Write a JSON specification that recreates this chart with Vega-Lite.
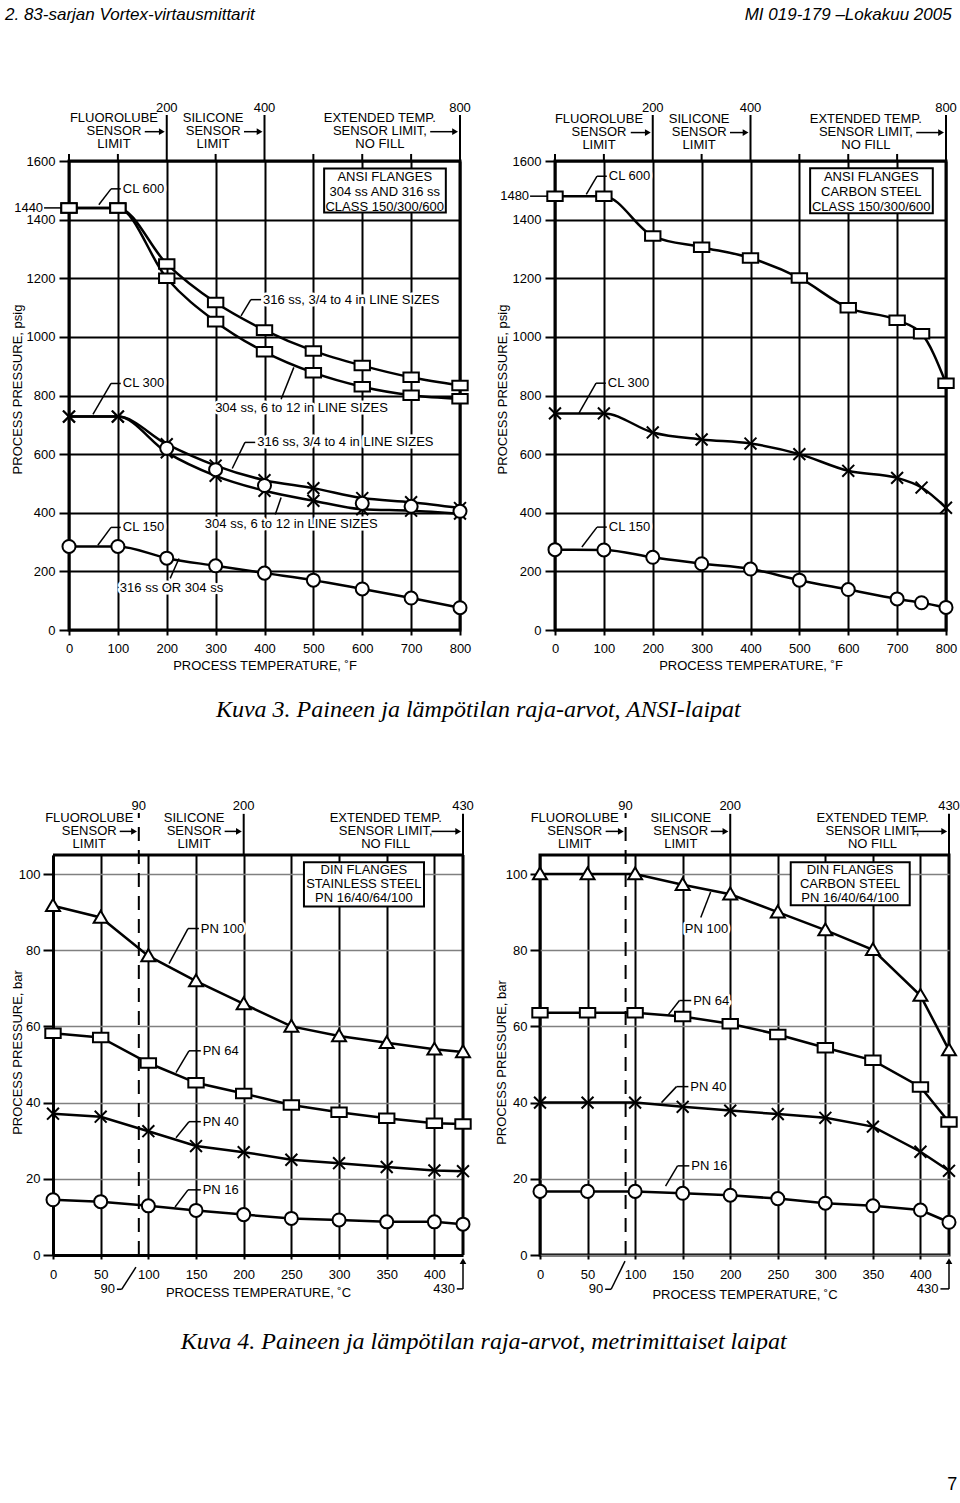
{
"$schema": "https://vega.github.io/schema/vega-lite/v6.json",
"background": "white",
"padding": {"left": 3, "top": 4, "right": 2, "bottom": 2},
"config": {
  "font": "Liberation Sans",
  "view": {"stroke": "black", "strokeWidth": 3},
  "axis": {"labelFont": "Liberation Sans", "labelFontSize": 13, "labelColor": "black", "titleFont": "Liberation Sans", "titleFontSize": 13, "titleFontWeight": "normal", "titleColor": "black", "domain": false, "grid": true, "gridColor": "black", "gridWidth": 2, "gridOpacity": 1, "tickColor": "black", "tickWidth": 2, "labelOverlap": false, "labelFlush": false},
  "text": {"font": "Liberation Sans", "fontSize": 13}
},
"datasets": {
  "s1": [
    {"g":"CL600 316","m":"sq","t":0,"p":1440},{"g":"CL600 316","m":"sq","t":100,"p":1440},{"g":"CL600 316","m":"sq","t":200,"p":1249},{"g":"CL600 316","m":"sq","t":300,"p":1117},{"g":"CL600 316","m":"sq","t":400,"p":1023},{"g":"CL600 316","m":"sq","t":500,"p":952},{"g":"CL600 316","m":"sq","t":600,"p":902},{"g":"CL600 316","m":"sq","t":700,"p":862},{"g":"CL600 316","m":"sq","t":800,"p":834},
    {"g":"CL600 304","m":"sq","t":0,"p":1440},{"g":"CL600 304","m":"sq","t":100,"p":1440},{"g":"CL600 304","m":"sq","t":200,"p":1200},{"g":"CL600 304","m":"sq","t":300,"p":1052},{"g":"CL600 304","m":"sq","t":400,"p":949},{"g":"CL600 304","m":"sq","t":500,"p":878},{"g":"CL600 304","m":"sq","t":600,"p":830},{"g":"CL600 304","m":"sq","t":700,"p":801},{"g":"CL600 304","m":"sq","t":800,"p":789},
    {"g":"CL300 316","m":"x","t":0,"p":728},{"g":"CL300 316","m":"x","t":100,"p":728},{"g":"CL300 316","m":"x","t":200,"p":634},{"g":"CL300 316","m":"x","t":300,"p":561},{"g":"CL300 316","m":"x","t":400,"p":511},{"g":"CL300 316","m":"x","t":500,"p":484},{"g":"CL300 316","m":"x","t":600,"p":450},{"g":"CL300 316","m":"x","t":700,"p":436},{"g":"CL300 316","m":"x","t":800,"p":416},
    {"g":"CL300 304","m":"x","t":0,"p":728},{"g":"CL300 304","m":"x","t":100,"p":728},{"g":"CL300 304","m":"x","t":200,"p":606},{"g":"CL300 304","m":"x","t":300,"p":526},{"g":"CL300 304","m":"x","t":400,"p":475},{"g":"CL300 304","m":"x","t":500,"p":441},{"g":"CL300 304","m":"x","t":600,"p":412},{"g":"CL300 304","m":"x","t":700,"p":407},{"g":"CL300 304","m":"x","t":800,"p":397},
    {"g":"CL300 mid","m":"o","t":200,"p":620},{"g":"CL300 mid","m":"o","t":300,"p":547},{"g":"CL300 mid","m":"o","t":400,"p":493},{"g":"CL300 mid","m":"o","t":600,"p":432},{"g":"CL300 mid","m":"o","t":700,"p":422},{"g":"CL300 mid","m":"o","t":800,"p":405},
    {"g":"CL150","m":"o","t":0,"p":285},{"g":"CL150","m":"o","t":100,"p":285},{"g":"CL150","m":"o","t":200,"p":245},{"g":"CL150","m":"o","t":300,"p":219},{"g":"CL150","m":"o","t":400,"p":194},{"g":"CL150","m":"o","t":500,"p":170},{"g":"CL150","m":"o","t":600,"p":140},{"g":"CL150","m":"o","t":700,"p":109},{"g":"CL150","m":"o","t":800,"p":76}
  ],
  "s2": [
    {"g":"CL600","m":"sq","t":0,"p":1480},{"g":"CL600","m":"sq","t":100,"p":1480},{"g":"CL600","m":"sq","t":200,"p":1344},{"g":"CL600","m":"sq","t":300,"p":1306},{"g":"CL600","m":"sq","t":400,"p":1269},{"g":"CL600","m":"sq","t":500,"p":1201},{"g":"CL600","m":"sq","t":600,"p":1099},{"g":"CL600","m":"sq","t":700,"p":1057},{"g":"CL600","m":"sq","t":750,"p":1011},{"g":"CL600","m":"sq","t":800,"p":842},
    {"g":"CL300","m":"x","t":0,"p":739},{"g":"CL300","m":"x","t":100,"p":739},{"g":"CL300","m":"x","t":200,"p":674},{"g":"CL300","m":"x","t":300,"p":650},{"g":"CL300","m":"x","t":400,"p":636},{"g":"CL300","m":"x","t":500,"p":600},{"g":"CL300","m":"x","t":600,"p":543},{"g":"CL300","m":"x","t":700,"p":519},{"g":"CL300","m":"x","t":750,"p":486},{"g":"CL300","m":"x","t":800,"p":417},
    {"g":"CL150","m":"o","t":0,"p":274},{"g":"CL150","m":"o","t":100,"p":273},{"g":"CL150","m":"o","t":200,"p":248},{"g":"CL150","m":"o","t":300,"p":226},{"g":"CL150","m":"o","t":400,"p":208},{"g":"CL150","m":"o","t":500,"p":170},{"g":"CL150","m":"o","t":600,"p":138},{"g":"CL150","m":"o","t":700,"p":106},{"g":"CL150","m":"o","t":750,"p":93},{"g":"CL150","m":"o","t":800,"p":77}
  ],
  "s3": [
    {"g":"PN100","m":"tri","t":0,"p":91.7},{"g":"PN100","m":"tri","t":50,"p":88.6},{"g":"PN100","m":"tri","t":100,"p":78.5},{"g":"PN100","m":"tri","t":150,"p":71.9},{"g":"PN100","m":"tri","t":200,"p":65.9},{"g":"PN100","m":"tri","t":250,"p":60.0},{"g":"PN100","m":"tri","t":300,"p":57.5},{"g":"PN100","m":"tri","t":350,"p":55.7},{"g":"PN100","m":"tri","t":400,"p":54.0},{"g":"PN100","m":"tri","t":430,"p":53.3},
    {"g":"PN64","m":"sq","t":0,"p":58.2},{"g":"PN64","m":"sq","t":50,"p":57.1},{"g":"PN64","m":"sq","t":100,"p":50.4},{"g":"PN64","m":"sq","t":150,"p":45.2},{"g":"PN64","m":"sq","t":200,"p":42.4},{"g":"PN64","m":"sq","t":250,"p":39.4},{"g":"PN64","m":"sq","t":300,"p":37.5},{"g":"PN64","m":"sq","t":350,"p":35.9},{"g":"PN64","m":"sq","t":400,"p":34.6},{"g":"PN64","m":"sq","t":430,"p":34.4},
    {"g":"PN40","m":"x","t":0,"p":37.1},{"g":"PN40","m":"x","t":50,"p":36.3},{"g":"PN40","m":"x","t":100,"p":32.5},{"g":"PN40","m":"x","t":150,"p":28.6},{"g":"PN40","m":"x","t":200,"p":27.0},{"g":"PN40","m":"x","t":250,"p":25.0},{"g":"PN40","m":"x","t":300,"p":24.1},{"g":"PN40","m":"x","t":350,"p":23.1},{"g":"PN40","m":"x","t":400,"p":22.2},{"g":"PN40","m":"x","t":430,"p":22.0},
    {"g":"PN16","m":"o","t":0,"p":14.5},{"g":"PN16","m":"o","t":50,"p":14.0},{"g":"PN16","m":"o","t":100,"p":12.9},{"g":"PN16","m":"o","t":150,"p":11.7},{"g":"PN16","m":"o","t":200,"p":10.6},{"g":"PN16","m":"o","t":250,"p":9.6},{"g":"PN16","m":"o","t":300,"p":9.2},{"g":"PN16","m":"o","t":350,"p":8.7},{"g":"PN16","m":"o","t":400,"p":8.7},{"g":"PN16","m":"o","t":430,"p":8.1}
  ],
  "s4": [
    {"g":"PN100","m":"tri","t":0,"p":100},{"g":"PN100","m":"tri","t":50,"p":100},{"g":"PN100","m":"tri","t":100,"p":100},{"g":"PN100","m":"tri","t":150,"p":97.2},{"g":"PN100","m":"tri","t":200,"p":94.7},{"g":"PN100","m":"tri","t":250,"p":90.0},{"g":"PN100","m":"tri","t":300,"p":85.3},{"g":"PN100","m":"tri","t":350,"p":80.1},{"g":"PN100","m":"tri","t":400,"p":68.1},{"g":"PN100","m":"tri","t":430,"p":53.8},
    {"g":"PN64","m":"sq","t":0,"p":63.6},{"g":"PN64","m":"sq","t":50,"p":63.6},{"g":"PN64","m":"sq","t":100,"p":63.6},{"g":"PN64","m":"sq","t":150,"p":62.6},{"g":"PN64","m":"sq","t":200,"p":60.7},{"g":"PN64","m":"sq","t":250,"p":57.9},{"g":"PN64","m":"sq","t":300,"p":54.4},{"g":"PN64","m":"sq","t":350,"p":51.1},{"g":"PN64","m":"sq","t":400,"p":44.1},{"g":"PN64","m":"sq","t":430,"p":34.9},
    {"g":"PN40","m":"x","t":0,"p":40.0},{"g":"PN40","m":"x","t":50,"p":40.0},{"g":"PN40","m":"x","t":100,"p":40.0},{"g":"PN40","m":"x","t":150,"p":38.9},{"g":"PN40","m":"x","t":200,"p":37.9},{"g":"PN40","m":"x","t":250,"p":37.0},{"g":"PN40","m":"x","t":300,"p":36.0},{"g":"PN40","m":"x","t":350,"p":33.7},{"g":"PN40","m":"x","t":400,"p":27.1},{"g":"PN40","m":"x","t":430,"p":22.1},
    {"g":"PN16","m":"o","t":0,"p":16.7},{"g":"PN16","m":"o","t":50,"p":16.7},{"g":"PN16","m":"o","t":100,"p":16.7},{"g":"PN16","m":"o","t":150,"p":16.2},{"g":"PN16","m":"o","t":200,"p":15.7},{"g":"PN16","m":"o","t":250,"p":14.8},{"g":"PN16","m":"o","t":300,"p":13.6},{"g":"PN16","m":"o","t":350,"p":12.9},{"g":"PN16","m":"o","t":400,"p":11.8},{"g":"PN16","m":"o","t":430,"p":8.6}
  ],
  "a1": [
    {"k":"C","t":92,"p":1745,"label":"FLUOROLUBE\nSENSOR\nLIMIT"},
    {"k":"C","t":295,"p":1745,"label":"SILICONE\nSENSOR\nLIMIT"},
    {"k":"C","t":636,"p":1745,"label":"EXTENDED TEMP.\nSENSOR LIMIT,\nNO FILL"},
    {"k":"C","t":200,"p":1782,"label":"200"},{"k":"C","t":400,"p":1782,"label":"400"},{"k":"C","t":800,"p":1782,"label":"800"},
    {"k":"B","t":646,"p":1546,"label":"ANSI FLANGES\n304 ss AND 316 ss\nCLASS 150/300/600"},
    {"k":"L","t":110,"p":1505,"label":"CL 600"},
    {"k":"L","t":397,"p":1127,"label":"316 ss, 3/4 to 4 in LINE SIZES"},
    {"k":"L","t":299,"p":756,"label":"304 ss, 6 to 12 in LINE SIZES"},
    {"k":"L","t":110,"p":841,"label":"CL 300"},
    {"k":"L","t":385,"p":640,"label":"316 ss, 3/4 to 4 in LINE SIZES"},
    {"k":"L","t":278,"p":360,"label":"304 ss, 6 to 12 in LINE SIZES"},
    {"k":"L","t":110,"p":350,"label":"CL 150"},
    {"k":"L","t":104,"p":142,"label":"316 ss OR 304 ss"},
    {"k":"R","t":-53,"p":1440,"label":"1440"}
  ],
  "r1": [
    {"t":106,"p":1505,"t2":86,"p2":1505},{"t":86,"p":1505,"t2":61,"p2":1451},
    {"t":393,"p":1127,"t2":372,"p2":1127},{"t":372,"p":1127,"t2":352,"p2":1072},
    {"t":434,"p":787,"t2":460,"p2":896},
    {"t":106,"p":841,"t2":86,"p2":841},{"t":86,"p":841,"t2":49,"p2":736},
    {"t":381,"p":640,"t2":360,"p2":640},{"t":360,"p":640,"t2":334,"p2":551},
    {"t":422,"p":394,"t2":434,"p2":452},
    {"t":106,"p":350,"t2":86,"p2":350},{"t":86,"p":350,"t2":59,"p2":289},
    {"t":207,"p":176,"t2":225,"p2":244},
    {"t":155,"p":1700,"t2":190,"p2":1700},{"t":358,"p":1700,"t2":390,"p2":1700},{"t":739,"p":1700,"t2":790,"p2":1700},
    {"t":-51,"p":1440,"t2":-10,"p2":1440}
  ],
  "h1": [{"d":"r","t":190,"p":1700},{"d":"r","t":390,"p":1700},{"d":"r","t":790,"p":1700},{"d":"r","t":-10,"p":1440}],
  "e1": [{"t":200,"p":1600,"p2":1757},{"t":400,"p":1600,"p2":1757},{"t":800,"p":1600,"p2":1757},{"t":0,"p":1600,"p2":1624},{"t":100,"p":1600,"p2":1624},{"t":300,"p":1600,"p2":1624},{"t":500,"p":1600,"p2":1624},{"t":600,"p":1600,"p2":1624},{"t":700,"p":1600,"p2":1624}],
  "b1": [{"t":522,"p":1424,"t2":771,"p2":1574}],
  "a2": [
    {"k":"C","t":90,"p":1742,"label":"FLUOROLUBE\nSENSOR\nLIMIT"},
    {"k":"C","t":295,"p":1742,"label":"SILICONE\nSENSOR\nLIMIT"},
    {"k":"C","t":636,"p":1742,"label":"EXTENDED TEMP.\nSENSOR LIMIT,\nNO FILL"},
    {"k":"C","t":200,"p":1782,"label":"200"},{"k":"C","t":400,"p":1782,"label":"400"},{"k":"C","t":800,"p":1782,"label":"800"},
    {"k":"B","t":647,"p":1544,"label":"ANSI FLANGES\nCARBON STEEL\nCLASS 150/300/600"},
    {"k":"L","t":110,"p":1548,"label":"CL 600"},
    {"k":"L","t":108,"p":842,"label":"CL 300"},
    {"k":"L","t":110,"p":351,"label":"CL 150"},
    {"k":"R","t":-53,"p":1480,"label":"1480"}
  ],
  "r2": [
    {"t":106,"p":1548,"t2":86,"p2":1548},{"t":86,"p":1548,"t2":64,"p2":1486},
    {"t":104,"p":842,"t2":84,"p2":842},{"t":84,"p":842,"t2":49,"p2":740},
    {"t":106,"p":351,"t2":86,"p2":351},{"t":86,"p":351,"t2":55,"p2":283},
    {"t":155,"p":1697,"t2":190,"p2":1697},{"t":358,"p":1697,"t2":390,"p2":1697},{"t":739,"p":1697,"t2":790,"p2":1697},
    {"t":-51,"p":1480,"t2":-10,"p2":1480}
  ],
  "h2": [{"d":"r","t":190,"p":1697},{"d":"r","t":390,"p":1697},{"d":"r","t":790,"p":1697},{"d":"r","t":-10,"p":1480}],
  "b2": [{"t":522,"p":1422,"t2":773,"p2":1575}],
  "a3": [
    {"k":"C","t":38,"p":114.6,"label":"FLUOROLUBE\nSENSOR\nLIMIT"},
    {"k":"C","t":148,"p":114.6,"label":"SILICONE\nSENSOR\nLIMIT"},
    {"k":"C","t":349,"p":114.6,"label":"EXTENDED TEMP.\nSENSOR LIMIT,\nNO FILL"},
    {"k":"C","t":90,"p":117.8,"label":"90"},{"k":"C","t":200,"p":117.8,"label":"200"},{"k":"C","t":430,"p":117.8,"label":"430"},
    {"k":"B","t":326,"p":101.0,"label":"DIN FLANGES\nSTAINLESS STEEL\nPN 16/40/64/100"},
    {"k":"L","t":155,"p":85.7,"label":"PN 100"},
    {"k":"L","t":157,"p":53.6,"label":"PN 64"},
    {"k":"L","t":157,"p":35.0,"label":"PN 40"},
    {"k":"L","t":157,"p":17.1,"label":"PN 16"},
    {"k":"R","t":65,"p":-9.0,"label":"90"},
    {"k":"R","t":421.5,"p":-8.9,"label":"430"}
  ],
  "r3": [
    {"t":153,"p":85.7,"t2":141.6,"p2":85.7},{"t":141.6,"p":85.7,"t2":121.7,"p2":76.5},
    {"t":155,"p":53.6,"t2":142.6,"p2":53.6},{"t":142.6,"p":53.6,"t2":129,"p2":47.9},
    {"t":155,"p":35.0,"t2":142.6,"p2":35.0},{"t":142.6,"p":35.0,"t2":129,"p2":30.8},
    {"t":155,"p":17.1,"t2":141.6,"p2":17.1},{"t":141.6,"p":17.1,"t2":128,"p2":12.6},
    {"t":67,"p":-9.0,"t2":72,"p2":-9.0},{"t":72,"p":-9.0,"t2":87,"p2":-3.2},
    {"t":423.5,"p":-8.9,"t2":430,"p2":-8.9},{"t":430,"p":-8.9,"t2":430,"p2":-1.6},
    {"t":70,"p":111.2,"t2":85,"p2":111.2},{"t":180,"p":111.2,"t2":195,"p2":111.2},{"t":397,"p":111.2,"t2":425,"p2":111.2}
  ],
  "h3": [{"d":"r","t":85,"p":111.2},{"d":"r","t":195,"p":111.2},{"d":"r","t":425,"p":111.2},{"d":"u","t":430,"p":-1.6}],
  "e3": [{"t":200,"p":105,"p2":115.8},{"t":430,"p":105,"p2":115.8}],
  "d3": [{"t":90,"p":0,"p2":116}],
  "f3": [{"t":0,"p":105,"t2":430,"p2":105},{"t":430,"p":0,"t2":430,"p2":105}],
  "b3": [{"t":263.2,"p":91.5,"t2":389.1,"p2":103.1}],
  "a4": [
    {"k":"C","t":36.5,"p":114.6,"label":"FLUOROLUBE\nSENSOR\nLIMIT"},
    {"k":"C","t":148,"p":114.6,"label":"SILICONE\nSENSOR\nLIMIT"},
    {"k":"C","t":349.6,"p":114.6,"label":"EXTENDED TEMP.\nSENSOR LIMIT,\nNO FILL"},
    {"k":"C","t":90,"p":117.8,"label":"90"},{"k":"C","t":200,"p":117.8,"label":"200"},{"k":"C","t":430,"p":117.8,"label":"430"},
    {"k":"B","t":326,"p":101.0,"label":"DIN FLANGES\nCARBON STEEL\nPN 16/40/64/100"},
    {"k":"M","t":175,"p":85.7,"label":"PN 100"},
    {"k":"L","t":161,"p":66.8,"label":"PN 64"},
    {"k":"L","t":158,"p":44.2,"label":"PN 40"},
    {"k":"L","t":159,"p":23.4,"label":"PN 16"},
    {"k":"R","t":66.4,"p":-9.0,"label":"90"},
    {"k":"R","t":419,"p":-8.9,"label":"430"}
  ],
  "r4": [
    {"t":169,"p":88.6,"t2":179.4,"p2":95.3},
    {"t":159,"p":66.8,"t2":146.6,"p2":66.8},{"t":146.6,"p":66.8,"t2":135,"p2":63.1},
    {"t":156,"p":44.2,"t2":143.5,"p2":44.2},{"t":143.5,"p":44.2,"t2":127.7,"p2":40.0},
    {"t":157,"p":23.4,"t2":144.6,"p2":23.4},{"t":144.6,"p":23.4,"t2":132,"p2":18.1},
    {"t":68.5,"p":-9.0,"t2":74.8,"p2":-9.0},{"t":74.8,"p":-9.0,"t2":89.4,"p2":-1.6},
    {"t":421,"p":-8.9,"t2":430,"p2":-8.9},{"t":430,"p":-8.9,"t2":430,"p2":-1.6},
    {"t":69,"p":111.2,"t2":85,"p2":111.2},{"t":179.5,"p":111.2,"t2":195,"p2":111.2},{"t":393,"p":111.2,"t2":425,"p2":111.2}
  ],
  "h4": [{"d":"r","t":85,"p":111.2},{"d":"r","t":195,"p":111.2},{"d":"r","t":425,"p":111.2},{"d":"u","t":430,"p":-1.6}],
  "b4": [{"t":263.6,"p":91.8,"t2":388.7,"p2":103.1}]
},
"title": {"text": "7", "orient": "bottom", "anchor": "end", "offset": 122, "dx": -5, "fontSize": 18, "font": "Liberation Sans", "fontWeight": "normal", "color": "black"},
"columns": 1,
"bounds": "full",
"spacing": 76,
"concat": [
 {
  "hconcat": [
   {
    "width": 391, "height": 469,
    "title": {"text": "2. 83-sarjan Vortex-virtausmittarit", "anchor": "start", "frame": "bounds", "offset": 78, "dx": -6, "font": "Liberation Sans Narrow, Liberation Sans, sans-serif", "fontSize": 17, "fontStyle": "italic", "fontWeight": "normal", "color": "black"},
    "resolve": {"scale": {"shape": "independent"}},
    "layer": [
     {"data": {"name": "s1"}, "transform": [{"filter": "datum.g != 'CL300 mid'"}],
      "mark": {"type": "line", "interpolate": "monotone", "color": "black", "strokeWidth": 2.5},
      "encoding": {
        "x": {"field": "t", "type": "quantitative", "scale": {"domain": [0, 800], "nice": false, "zero": false},
              "axis": {"title": "PROCESS TEMPERATURE, ˚F", "values": [0,100,200,300,400,500,600,700,800], "format": "d", "tickSize": 5, "labelPadding": 7, "titleY": 35, "titleBaseline": "middle"}},
        "y": {"field": "p", "type": "quantitative", "scale": {"domain": [0, 1600], "nice": false, "zero": false},
              "axis": {"title": "PROCESS PRESSURE, psig", "values": [0,100,200,300,400,500,600,700,800,900,1000,1100,1200,1300,1400,1500,1600], "format": "d", "labelExpr": "datum.value % 200 == 0 ? datum.label : ''", "gridOpacity": {"condition": {"test": "datum.value % 200 != 0", "value": 0}, "value": 1}, "tickSize": 10, "labelPadding": 4, "titleX": -52, "titleY": 228, "titleBaseline": "middle", "titleAlign": "center", "titleAngle": 270}},
        "detail": {"field": "g", "type": "nominal"}}},
     {"data": {"name": "e1"}, "mark": {"type": "rule", "color": "black", "strokeWidth": 2},
      "encoding": {"x": {"field": "t", "type": "quantitative", "scale": {"domain": [0, 800], "nice": false, "zero": false}}, "y": {"field": "p", "type": "quantitative", "scale": {"domain": [0, 1600], "nice": false, "zero": false}}, "y2": {"field": "p2"}}},
     {"data": {"name": "b1"}, "mark": {"type": "rect", "fill": "white", "stroke": "black", "strokeWidth": 2},
      "encoding": {"x": {"field": "t", "type": "quantitative", "scale": {"domain": [0, 800], "nice": false, "zero": false}}, "x2": {"field": "t2"}, "y": {"field": "p", "type": "quantitative", "scale": {"domain": [0, 1600], "nice": false, "zero": false}}, "y2": {"field": "p2"}}},
     {"data": {"name": "a1"}, "transform": [{"filter": "datum.k == 'L'"}], "mark": {"type": "text", "align": "left", "baseline": "middle", "fontSize": 13, "color": "white", "stroke": "white", "strokeWidth": 5, "strokeJoin": "round"},
      "encoding": {"x": {"field": "t", "type": "quantitative", "scale": {"domain": [0, 800], "nice": false, "zero": false}}, "y": {"field": "p", "type": "quantitative", "scale": {"domain": [0, 1600], "nice": false, "zero": false}}, "text": {"field": "label", "type": "nominal"}}},
     {"data": {"name": "r1"}, "mark": {"type": "rule", "color": "black", "strokeWidth": 1.5},
      "encoding": {"x": {"field": "t", "type": "quantitative", "scale": {"domain": [0, 800], "nice": false, "zero": false}}, "x2": {"field": "t2"}, "y": {"field": "p", "type": "quantitative", "scale": {"domain": [0, 1600], "nice": false, "zero": false}}, "y2": {"field": "p2"}}},
     {"data": {"name": "h1"}, "mark": {"type": "point", "filled": true, "color": "black", "size": 45, "opacity": 1},
      "encoding": {"x": {"field": "t", "type": "quantitative", "scale": {"domain": [0, 800], "nice": false, "zero": false}}, "y": {"field": "p", "type": "quantitative", "scale": {"domain": [0, 1600], "nice": false, "zero": false}}, "shape": {"field": "d", "type": "nominal", "scale": {"domain": ["r", "u"], "range": ["triangle-right", "triangle-up"]}, "legend": null}}},
     {"data": {"name": "a1"}, "transform": [{"filter": "datum.k == 'L'"}], "mark": {"type": "text", "align": "left", "baseline": "middle", "fontSize": 13, "color": "black"},
      "encoding": {"x": {"field": "t", "type": "quantitative", "scale": {"domain": [0, 800], "nice": false, "zero": false}}, "y": {"field": "p", "type": "quantitative", "scale": {"domain": [0, 1600], "nice": false, "zero": false}}, "text": {"field": "label", "type": "nominal"}}},
     {"data": {"name": "a1"}, "transform": [{"filter": "datum.k == 'C'"}], "mark": {"type": "text", "align": "center", "baseline": "middle", "fontSize": 13, "color": "black", "lineBreak": "\n", "lineHeight": 13},
      "encoding": {"x": {"field": "t", "type": "quantitative", "scale": {"domain": [0, 800], "nice": false, "zero": false}}, "y": {"field": "p", "type": "quantitative", "scale": {"domain": [0, 1600], "nice": false, "zero": false}}, "text": {"field": "label", "type": "nominal"}}},
     {"data": {"name": "a1"}, "transform": [{"filter": "datum.k == 'B'"}], "mark": {"type": "text", "align": "center", "baseline": "middle", "fontSize": 13, "color": "black", "lineBreak": "\n", "lineHeight": 15},
      "encoding": {"x": {"field": "t", "type": "quantitative", "scale": {"domain": [0, 800], "nice": false, "zero": false}}, "y": {"field": "p", "type": "quantitative", "scale": {"domain": [0, 1600], "nice": false, "zero": false}}, "text": {"field": "label", "type": "nominal"}}},
     {"data": {"name": "a1"}, "transform": [{"filter": "datum.k == 'R'"}], "mark": {"type": "text", "align": "right", "baseline": "middle", "fontSize": 13, "color": "black"},
      "encoding": {"x": {"field": "t", "type": "quantitative", "scale": {"domain": [0, 800], "nice": false, "zero": false}}, "y": {"field": "p", "type": "quantitative", "scale": {"domain": [0, 1600], "nice": false, "zero": false}}, "text": {"field": "label", "type": "nominal"}}},
     {"data": {"name": "s1"}, "mark": {"type": "point", "filled": true, "fill": "white", "stroke": "black", "strokeWidth": 2, "size": 196, "opacity": 1},
      "encoding": {"x": {"field": "t", "type": "quantitative", "scale": {"domain": [0, 800], "nice": false, "zero": false}}, "y": {"field": "p", "type": "quantitative", "scale": {"domain": [0, 1600], "nice": false, "zero": false}},
        "shape": {"field": "m", "type": "nominal", "scale": {"domain": ["sq", "x", "o", "tri"], "range": ["M-1.1,-0.68L1.1,-0.68L1.1,0.68L-1.1,0.68Z", "M-0.85,-0.85L0.85,0.85M-0.85,0.85L0.85,-0.85", "M-0.93,0A0.93,0.93,0,1,0,0.93,0A0.93,0.93,0,1,0,-0.93,0Z", "M0,-0.95L1,0.75L-1,0.75Z"]}, "legend": null}}}
    ]
   },
   {
    "width": 391, "height": 469,
    "title": {"text": "MI 019-179 –Lokakuu 2005", "anchor": "end", "frame": "bounds", "offset": 78, "dx": -6, "font": "Liberation Sans Narrow, Liberation Sans, sans-serif", "fontSize": 17, "fontStyle": "italic", "fontWeight": "normal", "color": "black"},
    "resolve": {"scale": {"shape": "independent"}},
    "layer": [
     {"data": {"name": "s2"},
      "mark": {"type": "line", "interpolate": "monotone", "color": "black", "strokeWidth": 2.5},
      "encoding": {
        "x": {"field": "t", "type": "quantitative", "scale": {"domain": [0, 800], "nice": false, "zero": false},
              "axis": {"title": "PROCESS TEMPERATURE, ˚F", "values": [0,100,200,300,400,500,600,700,800], "format": "d", "tickSize": 5, "labelPadding": 7, "titleY": 35, "titleBaseline": "middle"}},
        "y": {"field": "p", "type": "quantitative", "scale": {"domain": [0, 1600], "nice": false, "zero": false},
              "axis": {"title": "PROCESS PRESSURE, psig", "values": [0,100,200,300,400,500,600,700,800,900,1000,1100,1200,1300,1400,1500,1600], "format": "d", "labelExpr": "datum.value % 200 == 0 ? datum.label : ''", "gridOpacity": {"condition": {"test": "datum.value % 200 != 0", "value": 0}, "value": 1}, "tickSize": 10, "labelPadding": 4, "titleX": -53, "titleY": 228, "titleBaseline": "middle", "titleAlign": "center", "titleAngle": 270}},
        "detail": {"field": "g", "type": "nominal"}}},
     {"data": {"name": "e1"}, "mark": {"type": "rule", "color": "black", "strokeWidth": 2},
      "encoding": {"x": {"field": "t", "type": "quantitative", "scale": {"domain": [0, 800], "nice": false, "zero": false}}, "y": {"field": "p", "type": "quantitative", "scale": {"domain": [0, 1600], "nice": false, "zero": false}}, "y2": {"field": "p2"}}},
     {"data": {"name": "b2"}, "mark": {"type": "rect", "fill": "white", "stroke": "black", "strokeWidth": 2},
      "encoding": {"x": {"field": "t", "type": "quantitative", "scale": {"domain": [0, 800], "nice": false, "zero": false}}, "x2": {"field": "t2"}, "y": {"field": "p", "type": "quantitative", "scale": {"domain": [0, 1600], "nice": false, "zero": false}}, "y2": {"field": "p2"}}},
     {"data": {"name": "a2"}, "transform": [{"filter": "datum.k == 'L'"}], "mark": {"type": "text", "align": "left", "baseline": "middle", "fontSize": 13, "color": "white", "stroke": "white", "strokeWidth": 5, "strokeJoin": "round"},
      "encoding": {"x": {"field": "t", "type": "quantitative", "scale": {"domain": [0, 800], "nice": false, "zero": false}}, "y": {"field": "p", "type": "quantitative", "scale": {"domain": [0, 1600], "nice": false, "zero": false}}, "text": {"field": "label", "type": "nominal"}}},
     {"data": {"name": "r2"}, "mark": {"type": "rule", "color": "black", "strokeWidth": 1.5},
      "encoding": {"x": {"field": "t", "type": "quantitative", "scale": {"domain": [0, 800], "nice": false, "zero": false}}, "x2": {"field": "t2"}, "y": {"field": "p", "type": "quantitative", "scale": {"domain": [0, 1600], "nice": false, "zero": false}}, "y2": {"field": "p2"}}},
     {"data": {"name": "h2"}, "mark": {"type": "point", "filled": true, "color": "black", "size": 45, "opacity": 1},
      "encoding": {"x": {"field": "t", "type": "quantitative", "scale": {"domain": [0, 800], "nice": false, "zero": false}}, "y": {"field": "p", "type": "quantitative", "scale": {"domain": [0, 1600], "nice": false, "zero": false}}, "shape": {"field": "d", "type": "nominal", "scale": {"domain": ["r", "u"], "range": ["triangle-right", "triangle-up"]}, "legend": null}}},
     {"data": {"name": "a2"}, "transform": [{"filter": "datum.k == 'L'"}], "mark": {"type": "text", "align": "left", "baseline": "middle", "fontSize": 13, "color": "black"},
      "encoding": {"x": {"field": "t", "type": "quantitative", "scale": {"domain": [0, 800], "nice": false, "zero": false}}, "y": {"field": "p", "type": "quantitative", "scale": {"domain": [0, 1600], "nice": false, "zero": false}}, "text": {"field": "label", "type": "nominal"}}},
     {"data": {"name": "a2"}, "transform": [{"filter": "datum.k == 'C'"}], "mark": {"type": "text", "align": "center", "baseline": "middle", "fontSize": 13, "color": "black", "lineBreak": "\n", "lineHeight": 13},
      "encoding": {"x": {"field": "t", "type": "quantitative", "scale": {"domain": [0, 800], "nice": false, "zero": false}}, "y": {"field": "p", "type": "quantitative", "scale": {"domain": [0, 1600], "nice": false, "zero": false}}, "text": {"field": "label", "type": "nominal"}}},
     {"data": {"name": "a2"}, "transform": [{"filter": "datum.k == 'B'"}], "mark": {"type": "text", "align": "center", "baseline": "middle", "fontSize": 13, "color": "black", "lineBreak": "\n", "lineHeight": 15},
      "encoding": {"x": {"field": "t", "type": "quantitative", "scale": {"domain": [0, 800], "nice": false, "zero": false}}, "y": {"field": "p", "type": "quantitative", "scale": {"domain": [0, 1600], "nice": false, "zero": false}}, "text": {"field": "label", "type": "nominal"}}},
     {"data": {"name": "a2"}, "transform": [{"filter": "datum.k == 'R'"}], "mark": {"type": "text", "align": "right", "baseline": "middle", "fontSize": 13, "color": "black"},
      "encoding": {"x": {"field": "t", "type": "quantitative", "scale": {"domain": [0, 800], "nice": false, "zero": false}}, "y": {"field": "p", "type": "quantitative", "scale": {"domain": [0, 1600], "nice": false, "zero": false}}, "text": {"field": "label", "type": "nominal"}}},
     {"data": {"name": "s2"}, "mark": {"type": "point", "filled": true, "fill": "white", "stroke": "black", "strokeWidth": 2, "size": 196, "opacity": 1},
      "encoding": {"x": {"field": "t", "type": "quantitative", "scale": {"domain": [0, 800], "nice": false, "zero": false}}, "y": {"field": "p", "type": "quantitative", "scale": {"domain": [0, 1600], "nice": false, "zero": false}},
        "shape": {"field": "m", "type": "nominal", "scale": {"domain": ["sq", "x", "o", "tri"], "range": ["M-1.1,-0.68L1.1,-0.68L1.1,0.68L-1.1,0.68Z", "M-0.85,-0.85L0.85,0.85M-0.85,0.85L0.85,-0.85", "M-0.93,0A0.93,0.93,0,1,0,0.93,0A0.93,0.93,0,1,0,-0.93,0Z", "M0,-0.95L1,0.75L-1,0.75Z"]}, "legend": null}}}
    ]
   }
  ],
  "spacing": 20,
  "bounds": "full",
  "title": {"text": "Kuva 3. Paineen ja lämpötilan raja-arvot, ANSI-laipat", "orient": "bottom", "anchor": "middle", "offset": 24, "dx": -3, "font": "Liberation Serif", "fontSize": 24, "fontStyle": "italic", "fontWeight": "normal", "color": "black"}
 },
 {
  "hconcat": [
   {
    "width": 394, "height": 400,
    "view": {"stroke": null},
    "resolve": {"scale": {"shape": "independent"}},
    "layer": [
     {"data": {"name": "s3"},
      "mark": {"type": "line", "color": "black", "strokeWidth": 2.5},
      "encoding": {
        "x": {"field": "t", "type": "quantitative", "scale": {"domain": [0, 430], "nice": false, "zero": false, "range": [-16, 394]},
              "axis": {"title": "PROCESS TEMPERATURE, ˚C", "values": [0,50,100,150,200,250,300,350,400], "format": "d", "tickSize": 4, "labelPadding": 9, "titleY": 37, "titleBaseline": "middle", "domain": true, "domainWidth": 3, "domainColor": "black"}},
        "y": {"field": "p", "type": "quantitative", "scale": {"domain": [0, 105], "nice": false, "zero": false},
              "axis": {"title": "PROCESS PRESSURE, bar", "values": [0,10,20,30,40,50,60,70,80,90,100], "format": "d", "offset": 16, "domain": true, "domainWidth": 3, "domainColor": "black", "gridColor": "#808080", "gridWidth": 1.5, "tickSize": 10, "labelPadding": 3, "titleX": -36, "titleY": 197, "titleBaseline": "middle", "titleAlign": "center", "titleAngle": 270}},
        "detail": {"field": "g", "type": "nominal"}}},
     {"data": {"name": "f3"}, "mark": {"type": "rule", "color": "black", "strokeWidth": 3},
      "encoding": {"x": {"field": "t", "type": "quantitative", "scale": {"domain": [0, 430], "nice": false, "zero": false, "range": [-16, 394]}}, "x2": {"field": "t2"}, "y": {"field": "p", "type": "quantitative", "scale": {"domain": [0, 105], "nice": false, "zero": false}}, "y2": {"field": "p2"}}},
     {"data": {"name": "e3"}, "mark": {"type": "rule", "color": "black", "strokeWidth": 2},
      "encoding": {"x": {"field": "t", "type": "quantitative", "scale": {"domain": [0, 430], "nice": false, "zero": false, "range": [-16, 394]}}, "y": {"field": "p", "type": "quantitative", "scale": {"domain": [0, 105], "nice": false, "zero": false}}, "y2": {"field": "p2"}}},
     {"data": {"name": "d3"}, "mark": {"type": "rule", "color": "black", "strokeWidth": 2, "strokeDash": [14, 9]},
      "encoding": {"x": {"field": "t", "type": "quantitative", "scale": {"domain": [0, 430], "nice": false, "zero": false, "range": [-16, 394]}}, "y": {"field": "p", "type": "quantitative", "scale": {"domain": [0, 105], "nice": false, "zero": false}}, "y2": {"field": "p2"}}},
     {"data": {"name": "b3"}, "mark": {"type": "rect", "fill": "white", "stroke": "black", "strokeWidth": 2},
      "encoding": {"x": {"field": "t", "type": "quantitative", "scale": {"domain": [0, 430], "nice": false, "zero": false, "range": [-16, 394]}}, "x2": {"field": "t2"}, "y": {"field": "p", "type": "quantitative", "scale": {"domain": [0, 105], "nice": false, "zero": false}}, "y2": {"field": "p2"}}},
     {"data": {"name": "a3"}, "transform": [{"filter": "datum.k == 'L'"}], "mark": {"type": "text", "align": "left", "baseline": "middle", "fontSize": 13, "color": "white", "stroke": "white", "strokeWidth": 5, "strokeJoin": "round"},
      "encoding": {"x": {"field": "t", "type": "quantitative", "scale": {"domain": [0, 430], "nice": false, "zero": false, "range": [-16, 394]}}, "y": {"field": "p", "type": "quantitative", "scale": {"domain": [0, 105], "nice": false, "zero": false}}, "text": {"field": "label", "type": "nominal"}}},
     {"data": {"name": "r3"}, "mark": {"type": "rule", "color": "black", "strokeWidth": 1.5},
      "encoding": {"x": {"field": "t", "type": "quantitative", "scale": {"domain": [0, 430], "nice": false, "zero": false, "range": [-16, 394]}}, "x2": {"field": "t2"}, "y": {"field": "p", "type": "quantitative", "scale": {"domain": [0, 105], "nice": false, "zero": false}}, "y2": {"field": "p2"}}},
     {"data": {"name": "h3"}, "mark": {"type": "point", "filled": true, "color": "black", "size": 45, "opacity": 1},
      "encoding": {"x": {"field": "t", "type": "quantitative", "scale": {"domain": [0, 430], "nice": false, "zero": false, "range": [-16, 394]}}, "y": {"field": "p", "type": "quantitative", "scale": {"domain": [0, 105], "nice": false, "zero": false}}, "shape": {"field": "d", "type": "nominal", "scale": {"domain": ["r", "u"], "range": ["triangle-right", "triangle-up"]}, "legend": null}}},
     {"data": {"name": "a3"}, "transform": [{"filter": "datum.k == 'L'"}], "mark": {"type": "text", "align": "left", "baseline": "middle", "fontSize": 13, "color": "black"},
      "encoding": {"x": {"field": "t", "type": "quantitative", "scale": {"domain": [0, 430], "nice": false, "zero": false, "range": [-16, 394]}}, "y": {"field": "p", "type": "quantitative", "scale": {"domain": [0, 105], "nice": false, "zero": false}}, "text": {"field": "label", "type": "nominal"}}},
     {"data": {"name": "a3"}, "transform": [{"filter": "datum.k == 'C'"}], "mark": {"type": "text", "align": "center", "baseline": "middle", "fontSize": 13, "color": "black", "lineBreak": "\n", "lineHeight": 13},
      "encoding": {"x": {"field": "t", "type": "quantitative", "scale": {"domain": [0, 430], "nice": false, "zero": false, "range": [-16, 394]}}, "y": {"field": "p", "type": "quantitative", "scale": {"domain": [0, 105], "nice": false, "zero": false}}, "text": {"field": "label", "type": "nominal"}}},
     {"data": {"name": "a3"}, "transform": [{"filter": "datum.k == 'B'"}], "mark": {"type": "text", "align": "center", "baseline": "middle", "fontSize": 13, "color": "black", "lineBreak": "\n", "lineHeight": 14},
      "encoding": {"x": {"field": "t", "type": "quantitative", "scale": {"domain": [0, 430], "nice": false, "zero": false, "range": [-16, 394]}}, "y": {"field": "p", "type": "quantitative", "scale": {"domain": [0, 105], "nice": false, "zero": false}}, "text": {"field": "label", "type": "nominal"}}},
     {"data": {"name": "a3"}, "transform": [{"filter": "datum.k == 'R'"}], "mark": {"type": "text", "align": "right", "baseline": "middle", "fontSize": 13, "color": "black"},
      "encoding": {"x": {"field": "t", "type": "quantitative", "scale": {"domain": [0, 430], "nice": false, "zero": false, "range": [-16, 394]}}, "y": {"field": "p", "type": "quantitative", "scale": {"domain": [0, 105], "nice": false, "zero": false}}, "text": {"field": "label", "type": "nominal"}}},
     {"data": {"name": "s3"}, "mark": {"type": "point", "filled": true, "fill": "white", "stroke": "black", "strokeWidth": 2, "size": 196, "opacity": 1},
      "encoding": {"x": {"field": "t", "type": "quantitative", "scale": {"domain": [0, 430], "nice": false, "zero": false, "range": [-16, 394]}}, "y": {"field": "p", "type": "quantitative", "scale": {"domain": [0, 105], "nice": false, "zero": false}},
        "shape": {"field": "m", "type": "nominal", "scale": {"domain": ["sq", "x", "o", "tri"], "range": ["M-1.1,-0.68L1.1,-0.68L1.1,0.68L-1.1,0.68Z", "M-0.85,-0.85L0.85,0.85M-0.85,0.85L0.85,-0.85", "M-0.93,0A0.93,0.93,0,1,0,0.93,0A0.93,0.93,0,1,0,-0.93,0Z", "M0,-0.95L1,0.75L-1,0.75Z"]}, "legend": null}}}
    ]
   },
   {
    "width": 409, "height": 400,
    "resolve": {"scale": {"shape": "independent"}},
    "layer": [
     {"data": {"name": "s4"},
      "mark": {"type": "line", "color": "black", "strokeWidth": 2.5},
      "encoding": {
        "x": {"field": "t", "type": "quantitative", "scale": {"domain": [0, 430], "nice": false, "zero": false},
              "axis": {"title": "PROCESS TEMPERATURE, ˚C", "values": [0,50,100,150,200,250,300,350,400], "format": "d", "tickSize": 4, "labelPadding": 9, "titleY": 39, "titleBaseline": "middle"}},
        "y": {"field": "p", "type": "quantitative", "scale": {"domain": [0, 105], "nice": false, "zero": false},
              "axis": {"title": "PROCESS PRESSURE, bar", "values": [0,10,20,30,40,50,60,70,80,90,100], "format": "d", "gridColor": "#808080", "gridWidth": 1.5, "tickSize": 10, "labelPadding": 3, "titleX": -39, "titleY": 207, "titleBaseline": "middle", "titleAlign": "center", "titleAngle": 270}},
        "detail": {"field": "g", "type": "nominal"}}},
     {"data": {"name": "e3"}, "mark": {"type": "rule", "color": "black", "strokeWidth": 2},
      "encoding": {"x": {"field": "t", "type": "quantitative", "scale": {"domain": [0, 430], "nice": false, "zero": false}}, "y": {"field": "p", "type": "quantitative", "scale": {"domain": [0, 105], "nice": false, "zero": false}}, "y2": {"field": "p2"}}},
     {"data": {"name": "d3"}, "mark": {"type": "rule", "color": "black", "strokeWidth": 2, "strokeDash": [14, 9]},
      "encoding": {"x": {"field": "t", "type": "quantitative", "scale": {"domain": [0, 430], "nice": false, "zero": false}}, "y": {"field": "p", "type": "quantitative", "scale": {"domain": [0, 105], "nice": false, "zero": false}}, "y2": {"field": "p2"}}},
     {"data": {"name": "b4"}, "mark": {"type": "rect", "fill": "white", "stroke": "black", "strokeWidth": 2},
      "encoding": {"x": {"field": "t", "type": "quantitative", "scale": {"domain": [0, 430], "nice": false, "zero": false}}, "x2": {"field": "t2"}, "y": {"field": "p", "type": "quantitative", "scale": {"domain": [0, 105], "nice": false, "zero": false}}, "y2": {"field": "p2"}}},
     {"data": {"name": "a4"}, "transform": [{"filter": "datum.k == 'L'"}], "mark": {"type": "text", "align": "left", "baseline": "middle", "fontSize": 13, "color": "white", "stroke": "white", "strokeWidth": 5, "strokeJoin": "round"},
      "encoding": {"x": {"field": "t", "type": "quantitative", "scale": {"domain": [0, 430], "nice": false, "zero": false}}, "y": {"field": "p", "type": "quantitative", "scale": {"domain": [0, 105], "nice": false, "zero": false}}, "text": {"field": "label", "type": "nominal"}}},
     {"data": {"name": "a4"}, "transform": [{"filter": "datum.k == 'M'"}], "mark": {"type": "text", "align": "center", "baseline": "middle", "fontSize": 13, "color": "white", "stroke": "white", "strokeWidth": 5, "strokeJoin": "round"},
      "encoding": {"x": {"field": "t", "type": "quantitative", "scale": {"domain": [0, 430], "nice": false, "zero": false}}, "y": {"field": "p", "type": "quantitative", "scale": {"domain": [0, 105], "nice": false, "zero": false}}, "text": {"field": "label", "type": "nominal"}}},
     {"data": {"name": "r4"}, "mark": {"type": "rule", "color": "black", "strokeWidth": 1.5},
      "encoding": {"x": {"field": "t", "type": "quantitative", "scale": {"domain": [0, 430], "nice": false, "zero": false}}, "x2": {"field": "t2"}, "y": {"field": "p", "type": "quantitative", "scale": {"domain": [0, 105], "nice": false, "zero": false}}, "y2": {"field": "p2"}}},
     {"data": {"name": "h4"}, "mark": {"type": "point", "filled": true, "color": "black", "size": 45, "opacity": 1},
      "encoding": {"x": {"field": "t", "type": "quantitative", "scale": {"domain": [0, 430], "nice": false, "zero": false}}, "y": {"field": "p", "type": "quantitative", "scale": {"domain": [0, 105], "nice": false, "zero": false}}, "shape": {"field": "d", "type": "nominal", "scale": {"domain": ["r", "u"], "range": ["triangle-right", "triangle-up"]}, "legend": null}}},
     {"data": {"name": "a4"}, "transform": [{"filter": "datum.k == 'L'"}], "mark": {"type": "text", "align": "left", "baseline": "middle", "fontSize": 13, "color": "black"},
      "encoding": {"x": {"field": "t", "type": "quantitative", "scale": {"domain": [0, 430], "nice": false, "zero": false}}, "y": {"field": "p", "type": "quantitative", "scale": {"domain": [0, 105], "nice": false, "zero": false}}, "text": {"field": "label", "type": "nominal"}}},
     {"data": {"name": "a4"}, "transform": [{"filter": "datum.k == 'C' || datum.k == 'M'"}], "mark": {"type": "text", "align": "center", "baseline": "middle", "fontSize": 13, "color": "black", "lineBreak": "\n", "lineHeight": 13},
      "encoding": {"x": {"field": "t", "type": "quantitative", "scale": {"domain": [0, 430], "nice": false, "zero": false}}, "y": {"field": "p", "type": "quantitative", "scale": {"domain": [0, 105], "nice": false, "zero": false}}, "text": {"field": "label", "type": "nominal"}}},
     {"data": {"name": "a4"}, "transform": [{"filter": "datum.k == 'B'"}], "mark": {"type": "text", "align": "center", "baseline": "middle", "fontSize": 13, "color": "black", "lineBreak": "\n", "lineHeight": 14},
      "encoding": {"x": {"field": "t", "type": "quantitative", "scale": {"domain": [0, 430], "nice": false, "zero": false}}, "y": {"field": "p", "type": "quantitative", "scale": {"domain": [0, 105], "nice": false, "zero": false}}, "text": {"field": "label", "type": "nominal"}}},
     {"data": {"name": "a4"}, "transform": [{"filter": "datum.k == 'R'"}], "mark": {"type": "text", "align": "right", "baseline": "middle", "fontSize": 13, "color": "black"},
      "encoding": {"x": {"field": "t", "type": "quantitative", "scale": {"domain": [0, 430], "nice": false, "zero": false}}, "y": {"field": "p", "type": "quantitative", "scale": {"domain": [0, 105], "nice": false, "zero": false}}, "text": {"field": "label", "type": "nominal"}}},
     {"data": {"name": "s4"}, "mark": {"type": "point", "filled": true, "fill": "white", "stroke": "black", "strokeWidth": 2, "size": 196, "opacity": 1},
      "encoding": {"x": {"field": "t", "type": "quantitative", "scale": {"domain": [0, 430], "nice": false, "zero": false}}, "y": {"field": "p", "type": "quantitative", "scale": {"domain": [0, 105], "nice": false, "zero": false}},
        "shape": {"field": "m", "type": "nominal", "scale": {"domain": ["sq", "x", "o", "tri"], "range": ["M-1.1,-0.68L1.1,-0.68L1.1,0.68L-1.1,0.68Z", "M-0.85,-0.85L0.85,0.85M-0.85,0.85L0.85,-0.85", "M-0.93,0A0.93,0.93,0,1,0,0.93,0A0.93,0.93,0,1,0,-0.93,0Z", "M0,-0.95L1,0.75L-1,0.75Z"]}, "legend": null}}}
    ]
   }
  ],
  "spacing": 14,
  "bounds": "full",
  "title": {"text": "Kuva 4. Paineen ja lämpötilan raja-arvot, metrimittaiset laipat", "orient": "bottom", "anchor": "middle", "offset": 27, "dx": -3, "font": "Liberation Serif", "fontSize": 24, "fontStyle": "italic", "fontWeight": "normal", "color": "black"}
 }
]
}
